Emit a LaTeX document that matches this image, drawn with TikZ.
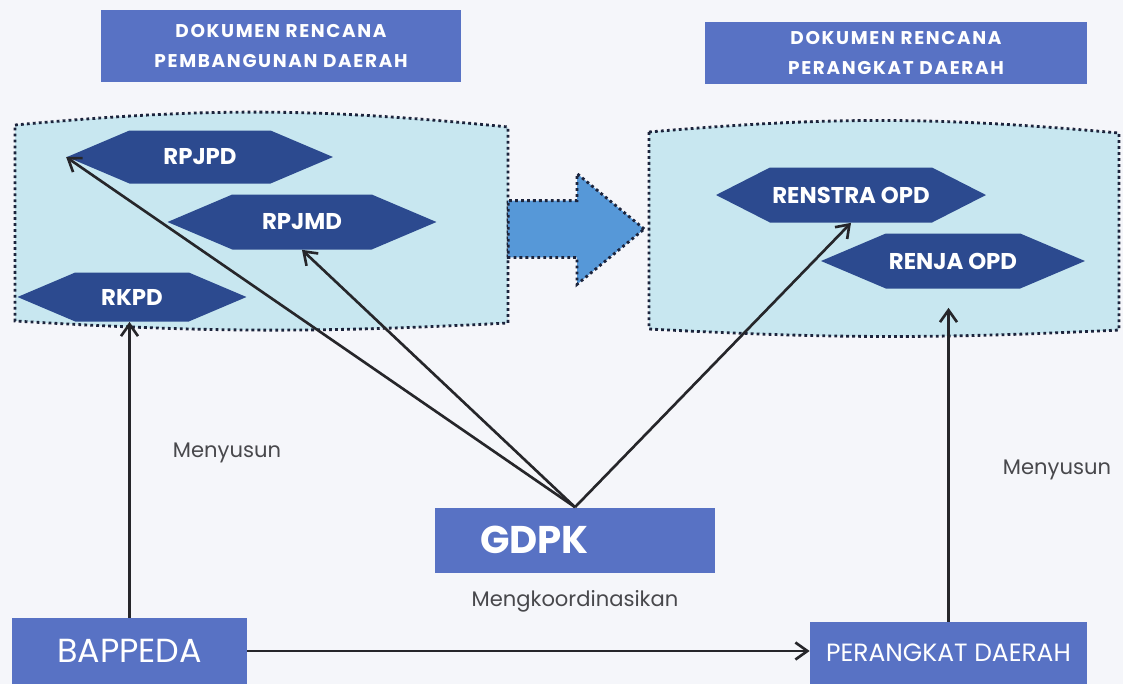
\documentclass[tikz,border=0pt]{standalone}
\usepackage{fontspec}
\setmainfont{Poppins}
\newfontfamily\titlefont[LetterSpace=9]{Poppins}
\usepackage{xcolor}
\definecolor{boxblue}{RGB}{88, 114, 196}
\definecolor{hexnavy}{RGB}{44, 74, 143}
\definecolor{panelcyan}{RGB}{200, 231, 240}
\definecolor{arrowblue}{RGB}{86, 152, 216}
\definecolor{dotnavy}{RGB}{28, 36, 60}
\definecolor{linegray}{RGB}{38, 38, 42}
\definecolor{labelgray}{RGB}{72, 72, 76}
\definecolor{paper}{RGB}{245, 246, 250}
\usepackage{tikz}
\usetikzlibrary{shapes.symbols, shapes.arrows, arrows.meta, positioning}
\tikzset{
  titlebox/.style={fill=boxblue, text=white, align=center, inner sep=0pt,
    font=\titlefont\bfseries\fontsize{10.5}{17.5}\selectfont},
  hexnode/.style={signal, signal to=east and west, signal pointer angle=46,
    fill=hexnavy, text=white, inner sep=0pt,
    font=\bfseries\fontsize{13}{15}\selectfont},
  actorbox/.style={fill=boxblue, text=white, inner sep=0pt},
  panel/.style={fill=panelcyan, draw=dotnavy, line width=1.6pt,
    dash pattern=on 1.6pt off 1.8pt},
  blockarrow/.style={single arrow, fill=arrowblue, draw=dotnavy, line width=1.6pt,
    dash pattern=on 1.6pt off 1.8pt, single arrow tip angle=79,
    single arrow head extend=0.54cm, inner xsep=0pt, inner ysep=0.54cm},
  linkarrow/.style={-{Straight Barb[length=2.4mm,width=3.4mm]},
    line width=1.5pt, draw=linegray},
  sidelabel/.style={text=labelgray, inner sep=0pt,
    font=\fontsize{12}{14}\selectfont}
}
\begin{document}
\begin{tikzpicture}[x=0.02cm, y=-0.02cm]

  % background
  \fill[paper] (0,0) rectangle (1123,684);

  % document panels
  \path[panel] (15,125) to[bend left=5.5] (508,127) -- (508,323)
    to[bend left=3.2] (15,321) -- cycle;
  \path[panel] (649,132) to[bend left=5] (1119,133) -- (1119,330)
    to[bend left=2.9] (649,329) -- cycle;

  % headers
  \node[titlebox, minimum width=7.2cm, minimum height=1.44cm] (docpd) at (281,46)
    {DOKUMEN RENCANA\\PEMBANGUNAN DAERAH};
  \node[titlebox, minimum width=7.66cm, minimum height=1.26cm] (docopd) at (896,53)
    {DOKUMEN RENCANA\\PERANGKAT DAERAH};

  % plans
  \node[hexnode, minimum width=5.32cm, minimum height=1.06cm] (rpjpd) at (200,157) {RPJPD};
  \node[hexnode, minimum width=5.38cm, minimum height=1.1cm] (rpjmd) at (302,222) {RPJMD};
  \node[hexnode, minimum width=4.58cm, minimum height=0.98cm] (rkpd) at (132,297) {RKPD};
  \node[hexnode, signal pointer angle=54, minimum width=5.4cm, minimum height=1.1cm]
    (renstra) at (851,195) {RENSTRA OPD};
  \node[hexnode, minimum width=5.28cm, minimum height=1.1cm] (renja) at (953,261) {RENJA OPD};

  % flow between panels
  \node[blockarrow, minimum height=2.72cm, minimum width=2.16cm] (flow) at (559,229) {};

  % actors
  \node[actorbox, minimum width=5.6cm, minimum height=1.3cm, text width=3.8cm,
    inner xsep=0.9cm, align=left, font=\bfseries\fontsize{22}{24}\selectfont]
    (gdpk) at (575,540) {GDPK};
  \node[sidelabel, below=0.34cm of gdpk] (koord) {Mengkoordinasikan};
  \node[actorbox, minimum width=4.7cm, minimum height=1.32cm,
    font=\fontsize{19}{22}\selectfont] (bappeda) at (129.5,651) {BAPPEDA};
  \node[actorbox, minimum width=5.54cm, minimum height=1.24cm,
    font=\fontsize{14.2}{16}\selectfont] (pd) at (948.5,653) {PERANGKAT DAERAH};
  \node[sidelabel] (susunA) at (227,453) {Menyusun};
  \node[sidelabel] (susunB) at (1057,470) {Menyusun};

  % connectors
  \draw[linkarrow] (bappeda.north) -- (bappeda.north |- rkpd.south);
  \draw[linkarrow] (bappeda.east) -- (bappeda.east -| pd.west);
  \draw[linkarrow, shorten >=0.38cm] (pd.north) -- (pd.north |- renja.south);
  \draw[linkarrow] (gdpk.north) -- (rpjpd.west);
  \draw[linkarrow] (gdpk.north) -- (rpjmd.south);
  \draw[linkarrow] (gdpk.north) -- (renstra.south);

\end{tikzpicture}
\end{document}
